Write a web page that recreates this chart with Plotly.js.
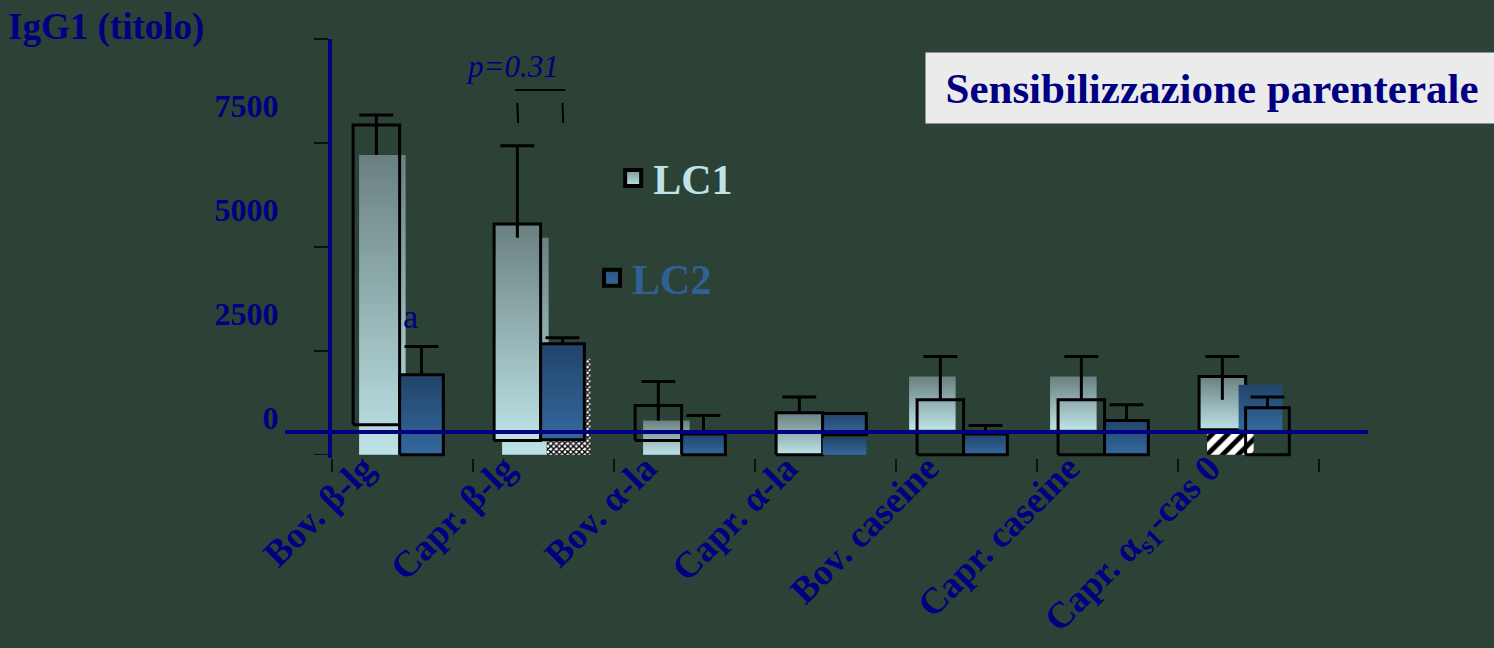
<!DOCTYPE html>
<html><head><meta charset="utf-8">
<script src="https://cdn.plot.ly/plotly-3.0.1.min.js"></script>
<style>html,body{margin:0;padding:0;background:#2c4236;}#chart{width:1494px;height:648px;}</style>
</head><body><div id="chart"></div>
<script>
// ---------------- data (IgG1 titre) ----------------
const categories = ['Bov. β-lg', 'Capr. β-lg', 'Bov. α-la', 'Capr. α-la', 'Bov. caseine', 'Capr. caseine', 'Capr. α<sub>s1</sub>-cas 0'];
const yTickVals = [0, 2500, 5000, 7500, 10000];
const yTickText = ['0', '2500', '5000', '7500', ''];
const seriesNames = ['LC1', 'LC2'];
// LC1
const lc1Top = [7930, 5550, 1180, 1010, 1320, 1320, 1880];
const lc1Base = [720, 340, 340, 0, 0, 0, 600];
const lc1ErrTop = [8170, 7430, 1760, 1390, 2360, 2360, 2360];
const lc1ErrLow = [7210, 5220, 820, 1010, 1320, 1320, 1320];
const lc1ShadowTop = [7210, 5220, 820, null, 1880, 1880, 500];
const lc1ShadowBase = [0, 0, 0, null, 600, 600, 0];
// LC2
const lc2Top = [1920, 2670, 500, 990, 500, 820, 1130];
const lc2Base = [0, 360, 0, 480, 0, 0, 0];
const lc2ErrTop = [2600, 2810, 940, null, 700, 1200, 1390];
const lc2ShadowTop = [null, 2310, null, 410, null, null, 1680];
const lc2ShadowBase = [null, 0, null, 0, null, null, 600];
// significance bracket between LC1 and LC2 of Capr. β-lg
const pLabel = 'p=0.31';
const pCategory = 1;
const pBracketTop = 8775, pLegTop = 8460, pLegLow = 7980, pLabelY = 9350;
// letter on Bov. β-lg LC2
const letterLabel = 'a';
const letterCategory = 0;
const letterY = 3320;
const panelTitle = 'Sensibilizzazione parenterale';
const yTitle = 'IgG1 (titolo)';

// ---------------- styles ----------------
const NAVY = '#000080';
const FONT = 'Liberation Serif, Times New Roman, serif';
const PX = 1 / 141;                 // category units per pixel
const box1 = [-0.35, -0.02], box2 = [-0.02, 0.29];
const lc1BoxFilled = [false, true, false, true, false, false, true];
const lc2BoxFilled = [true, true, true, true, true, true, false];
const lc1ShadowStyle = ['grad', 'grad', 'grad', null, 'grad', 'grad', 'hatch'];
const lc2ShadowStyle = [null, 'checker', null, 'grad', null, null, 'grad'];
const lc1ShadowShiftPx = [6, 8, 8, 0, -8, -8, 8];
const lc2ShadowShiftPx = [0, 6, 0, 0, 0, 0, -7];
const grad1 = {type: 'vertical', colorscale: [[0, '#bde3e6'], [1, '#6a8080']]};
const grad2 = {type: 'vertical', colorscale: [[0, '#34699d'], [1, '#21446a']]};
const patterns = {
  checker: {shape: 'x', fgcolor: '#000000', bgcolor: '#ffffff', size: 4, solidity: 0.6},
  hatch: {shape: '/', fgcolor: '#000000', bgcolor: '#ffffff', size: 11, solidity: 0.45}
};

function rect(x0, x1, y0, y1) {
  return {x: [x0, x1, x1, x0, x0], y: [y0, y0, y1, y1, y0]};
}
const traces = [];
function addShadows(tops, bases, styles, shifts, box, grad) {
  categories.forEach((c, i) => {
    if (tops[i] == null) return;
    const s = shifts[i] * PX;
    const r = rect(i + box[0] + s, i + box[1] + s, bases[i], tops[i]);
    const t = Object.assign({type: 'scatter', mode: 'none', fill: 'toself', showlegend: false, hoverinfo: 'skip'}, r);
    if (styles[i] === 'grad') { t.fillgradient = grad; t.fillcolor = grad.colorscale[0][1]; }
    else { t.fillpattern = patterns[styles[i]]; t.fillcolor = '#ffffff'; }
    traces.push(t);
  });
}
function addBoxes(tops, bases, filled, box, grad) {
  categories.forEach((c, i) => {
    const r = rect(i + box[0], i + box[1], bases[i], tops[i]);
    const t = Object.assign({type: 'scatter', mode: 'lines', line: {color: '#000000', width: 3}, showlegend: false, hoverinfo: 'skip'}, r);
    if (filled[i]) { t.fill = 'toself'; t.fillgradient = grad; t.fillcolor = grad.colorscale[0][1]; }
    traces.push(t);
  });
}
function errorTrace(tops, lows, box) {
  const xs = [], ys = [];
  const xc = (box[0] + box[1]) / 2, hw = 0.12;
  categories.forEach((c, i) => {
    if (tops[i] == null) return;
    xs.push(i + xc, i + xc, null, i + xc - hw, i + xc + hw, null);
    ys.push(lows[i], tops[i], null, tops[i], tops[i], null);
  });
  return {type: 'scatter', mode: 'lines', x: xs, y: ys, xaxis: 'x2', line: {color: '#000000', width: 3}, showlegend: false, hoverinfo: 'skip'};
}

addShadows(lc1ShadowTop, lc1ShadowBase, lc1ShadowStyle, lc1ShadowShiftPx, box1, grad1);
addBoxes(lc1Top, lc1Base, lc1BoxFilled, box1, grad1);
addShadows(lc2ShadowTop, lc2ShadowBase, lc2ShadowStyle, lc2ShadowShiftPx, box2, grad2);
addBoxes(lc2Top, lc2Base, lc2BoxFilled, box2, grad2);
traces.push(errorTrace(lc1ErrTop, lc1ErrLow, box1));
traces.push(errorTrace(lc2ErrTop, lc2Top, box2));
// significance bracket
const bx1 = pCategory + (box1[0] + box1[1]) / 2, bx2 = pCategory + (box2[0] + box2[1]) / 2;
traces.push({type: 'scatter', mode: 'lines', xaxis: 'x2',
  x: [bx1 - 0.015, bx2 + 0.02, null, bx1, bx1 + 0.005, null, bx2, bx2 + 0.005],
  y: [pBracketTop, pBracketTop, null, pLegTop, pLegLow, null, pLegTop, pLegLow],
  line: {color: '#000000', width: 2}, showlegend: false, hoverinfo: 'skip'});
// legend entries
traces.push({type: 'scatter', mode: 'markers', x: [null], y: [null], name: seriesNames[0], legend: 'legend',
  marker: {symbol: 'square', size: 16, color: '#7d9696', gradient: {type: 'vertical', color: '#bde3e6'}, line: {color: '#000', width: 4}}});
traces.push({type: 'scatter', mode: 'markers', x: [null], y: [null], name: seriesNames[1], legend: 'legend2',
  marker: {symbol: 'square', size: 16, color: '#2a5683', gradient: {type: 'vertical', color: '#33679a'}, line: {color: '#000', width: 4}}});

const boundaries = categories.map((c, i) => i - 0.5).concat([categories.length - 0.5]);
const xRange = [-0.833, 6.848];

const layout = {
  width: 1494, height: 648,
  paper_bgcolor: '#2c4236', plot_bgcolor: 'rgba(0,0,0,0)',
  margin: {l: 285, r: 126, t: 39, b: 190, pad: 0},
  showlegend: true,
  title: {text: yTitle, font: {family: FONT, size: 37, color: NAVY, weight: 'bold'},
    x: 0.0054, xref: 'container', xanchor: 'left', y: 0.98, yref: 'container', yanchor: 'top'},
  xaxis: {range: xRange, showgrid: false, zeroline: false, showline: false,
    tickmode: 'array', tickvals: categories.map((c, i) => i), ticktext: categories,
    ticks: '', tickangle: -45, ticklabelshift: -39, ticklabelstandoff: -20,
    tickfont: {family: FONT, size: 37, color: NAVY, weight: 'bold'},
    minor: {tickmode: 'array', tickvals: boundaries, ticks: 'outside', ticklen: 13, tickwidth: 1.5, tickcolor: '#111111', showgrid: false}},
  xaxis2: {matches: 'x', overlaying: 'x', anchor: 'free', position: 0.062, range: xRange,
    showline: true, linecolor: NAVY, linewidth: 4, showticklabels: false, ticks: '', showgrid: false, zeroline: false},
  yaxis: {range: [-80, 10000], anchor: 'free', position: 0.04155, showgrid: false, zeroline: false,
    showline: true, linecolor: NAVY, linewidth: 4,
    tickmode: 'array', tickvals: yTickVals, ticktext: yTickText,
    ticks: 'outside', ticklen: 14, tickwidth: 1.5, tickcolor: '#111111',
    ticklabelshift: -37, ticklabelstandoff: 29,
    tickfont: {family: FONT, size: 32, color: NAVY, weight: 'bold'}},
  legend: {x: 0.303, y: 0.668, xanchor: 'left', yanchor: 'middle', bgcolor: 'rgba(0,0,0,0)', borderwidth: 0,
    font: {family: FONT, size: 42, color: '#bfe3e6', weight: 'bold'}},
  legend2: {x: 0.2835, y: 0.4296, xanchor: 'left', yanchor: 'middle', bgcolor: 'rgba(0,0,0,0)', borderwidth: 0,
    font: {family: FONT, size: 42, color: '#2f6194', weight: 'bold'}},
  annotations: [
    {text: panelTitle, xref: 'paper', yref: 'paper', x: 0.591, y: 0.969, xanchor: 'left', yanchor: 'top',
      width: 572, height: 70, bgcolor: '#ebebeb', borderpad: 0, align: 'center', valign: 'middle', showarrow: false,
      font: {family: FONT, size: 43, color: NAVY, weight: 'bold'}},
    {text: pLabel, xref: 'x', yref: 'y', x: pCategory - 0.216, y: pLabelY, showarrow: false,
      font: {family: FONT, size: 31, color: NAVY, style: 'italic'}},
    {text: letterLabel, xref: 'x', yref: 'y', x: letterCategory + 0.06, y: letterY, showarrow: false,
      font: {family: FONT, size: 34, color: NAVY}}
  ]
};
Plotly.newPlot('chart', traces, layout, {staticPlot: true});
</script></body></html>
